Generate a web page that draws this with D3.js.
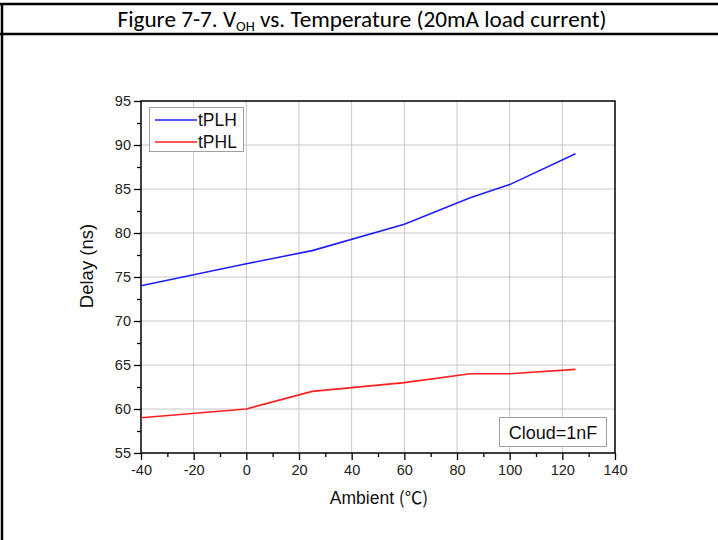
<!DOCTYPE html>
<html><head><meta charset="utf-8">
<script src="https://cdn.jsdelivr.net/npm/d3@7"></script>
<style>body{margin:0;background:#fff}svg{display:block}</style>
</head><body>
<script>
const temps = [-40, 0, 25, 60, 85, 100, 125];
const tPLH = [74, 76.5, 78, 81, 84, 85.5, 89];
const tPHL = [59, 60, 62, 63, 64, 64, 64.5];
const xTicks = [-40, -20, 0, 20, 40, 60, 80, 100, 120, 140];
const yTicks = [55, 60, 65, 70, 75, 80, 85, 90, 95];
const seriesNames = ["tPLH", "tPHL"];
const seriesColors = ["#1f1fff", "#ff1f1f"];

const W = 718, H = 540;
const svg = d3.select("body").append("svg").attr("width", W).attr("height", H);
const font = "Arial, 'Liberation Sans', Helvetica, sans-serif";

// table borders
svg.append("line").attr("x1",0).attr("x2",W).attr("y1",4).attr("y2",4).attr("stroke","#000").attr("stroke-width",2.5);
svg.append("line").attr("x1",0).attr("x2",W).attr("y1",34).attr("y2",34).attr("stroke","#000").attr("stroke-width",2.5);
svg.append("line").attr("x1",2).attr("x2",2).attr("y1",3).attr("y2",H).attr("stroke","#000").attr("stroke-width",2.5);

const title = svg.append("text").attr("x",362).attr("y",27).attr("text-anchor","middle")
  .attr("font-family","Carlito, 'Open Sans', 'Noto Sans', sans-serif").attr("font-size",23.2).attr("fill","#000");
title.append("tspan").text("Figure 7-7. V");
title.append("tspan").attr("font-size",14.5).attr("dy",4).text("OH");
title.append("tspan").attr("dy",-4).text(" vs. Temperature (20mA load current)");

const x = d3.scaleLinear().domain([-40,140]).range([141,615]);
const y = d3.scaleLinear().domain([55,95]).range([453,101]);

// grid
const g = svg.append("g");
g.selectAll(".gx").data(xTicks.slice(1,-1)).join("line")
  .attr("x1",d=>x(d)).attr("x2",d=>x(d)).attr("y1",y(95)).attr("y2",y(55))
  .attr("stroke","#c8c8c8").attr("stroke-width",1);
g.selectAll(".gy").data(yTicks.slice(1,-1)).join("line")
  .attr("x1",x(-40)).attr("x2",x(140)).attr("y1",d=>y(d)).attr("y2",d=>y(d))
  .attr("stroke","#c8c8c8").attr("stroke-width",1);

// axes
const fmt = d => String(d);
const xAxis = svg.append("g").attr("transform",`translate(0,${y(55)})`)
  .call(d3.axisBottom(x).tickValues(xTicks).tickSize(7).tickPadding(5).tickFormat(fmt));
const xMinor = svg.append("g").attr("transform",`translate(0,${y(55)})`)
  .call(d3.axisBottom(x).tickValues(d3.range(-30,140,20)).tickSize(4).tickFormat(""));
const yAxis = svg.append("g").attr("transform",`translate(${x(-40)},0)`)
  .call(d3.axisLeft(y).tickValues(yTicks).tickSize(7).tickPadding(3).tickFormat(fmt));
const yMinor = svg.append("g").attr("transform",`translate(${x(-40)},0)`)
  .call(d3.axisLeft(y).tickValues(d3.range(57.5,95,5)).tickSize(4).tickFormat(""));
[xAxis,xMinor,yAxis,yMinor].forEach(a=>{
  a.attr("font-family",font).attr("font-size",14);
  a.select(".domain").remove();
  a.selectAll("line").attr("stroke","#000").attr("stroke-width",1.3);
  a.selectAll("text").attr("font-family",font).attr("font-size",14.5).attr("fill","#222");
});
// frame
svg.append("rect").attr("x",x(-40)).attr("y",y(95)).attr("width",x(140)-x(-40)).attr("height",y(55)-y(95))
  .attr("fill","none").attr("stroke","#000").attr("stroke-width",1.5);

// lines
const line = d3.line().x((d,i)=>x(temps[i])).y(d=>y(d));
[tPLH,tPHL].forEach((s,i)=>{
  svg.append("path").datum(s).attr("d",line).attr("fill","none")
    .attr("stroke",seriesColors[i]).attr("stroke-width",1.6);
});

// legend
svg.append("rect").attr("x",149.5).attr("y",107.5).attr("width",94).attr("height",44)
  .attr("fill","#fff").attr("stroke","#a0a0a0").attr("stroke-width",1);
seriesNames.forEach((n,i)=>{
  const ly = 120 + i*22;
  svg.append("line").attr("x1",155).attr("x2",197).attr("y1",ly).attr("y2",ly)
    .attr("stroke",seriesColors[i]).attr("stroke-width",1.6);
  svg.append("text").attr("x",198).attr("y",ly+6).attr("font-family",font).attr("font-size",17.5)
    .attr("fill","#111").text(n);
});

// annotation
svg.append("rect").attr("x",499.5).attr("y",417.5).attr("width",107).attr("height",29)
  .attr("fill","#fff").attr("stroke","#a0a0a0").attr("stroke-width",1);
svg.append("text").attr("x",553).attr("y",439).attr("text-anchor","middle").attr("font-family",font)
  .attr("font-size",18).attr("fill","#111").text("Cloud=1nF");

// axis titles
const xt = svg.append("text").attr("x",379).attr("y",504).attr("text-anchor","middle").attr("font-family",font)
  .attr("font-size",17.5).attr("fill","#111");
xt.append("tspan").text("Ambient ");
xt.append("tspan").attr("font-family","'Noto Sans CJK SC', sans-serif").text("(℃)");
svg.append("text").attr("transform","translate(93,266) rotate(-90)").attr("text-anchor","middle")
  .attr("font-family",font).attr("font-size",18.5).attr("fill","#111").text("Delay (ns)");
</script>
</body></html>
